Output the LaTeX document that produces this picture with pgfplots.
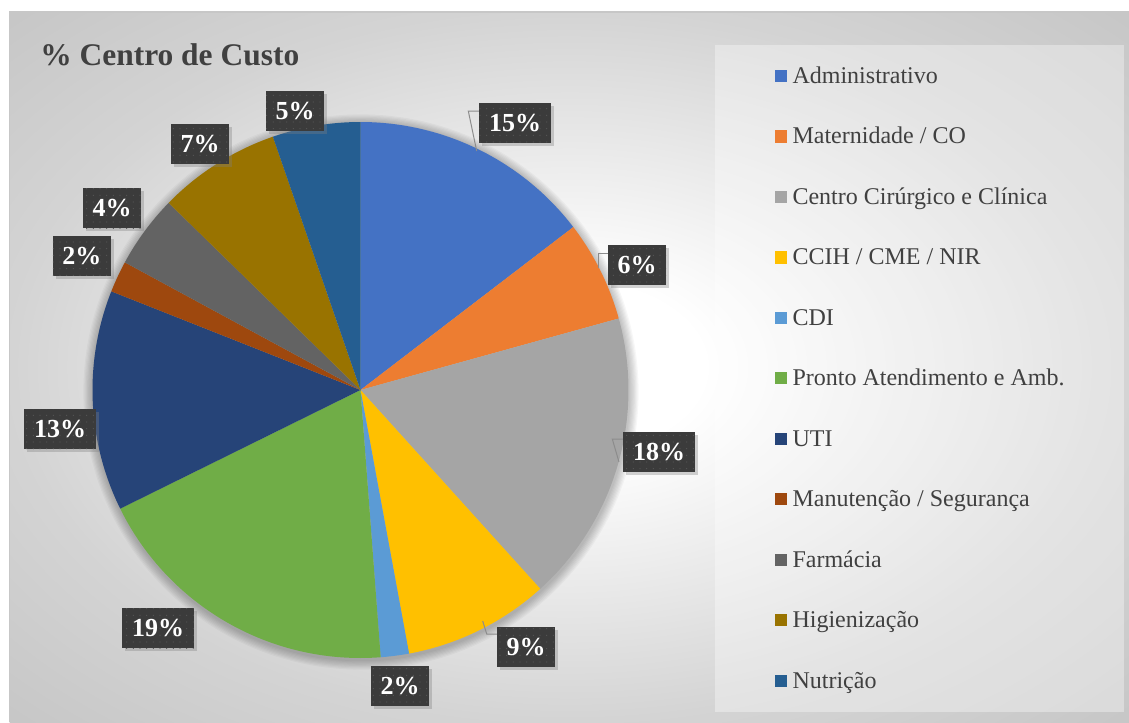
\documentclass[border=0pt]{standalone}
\usepackage{pgfplots}
\pgfplotsset{compat=1.18}
\usepackage{pgfplotstable}
\usepackage{fontspec}
\setmainfont{Liberation Serif}
\usetikzlibrary{shadows,patterns.meta}

\definecolor{c0}{HTML}{4472C4}
\definecolor{c1}{HTML}{ED7D31}
\definecolor{c2}{HTML}{A5A5A5}
\definecolor{c3}{HTML}{FFC000}
\definecolor{c4}{HTML}{5B9BD5}
\definecolor{c5}{HTML}{70AD47}
\definecolor{c6}{HTML}{264478}
\definecolor{c7}{HTML}{9E480E}
\definecolor{c8}{HTML}{636363}
\definecolor{c9}{HTML}{997300}
\definecolor{c10}{HTML}{255E91}
\definecolor{txt}{HTML}{404040}
\definecolor{lblbg}{HTML}{3B3B3B}

\pgfdeclareradialshading{chartbg}{\pgfpoint{0bp}{0bp}}{color(0bp)=(white); color(6bp)=(white); color(25bp)=(black!17); color(35bp)=(black!22); color(50bp)=(black!22)}

% name, share (%), label centre (pixel x, pixel y)
\pgfplotstableread[col sep=comma]{
name,val,lx,ly
Administrativo,14.6,515,123
Maternidade / CO,6.1,637,265
Centro Cirúrgico e Clínica,17.6,659,452
CCIH / CME / NIR,8.8,526,647
CDI,1.7,400,686
Pronto Atendimento e Amb.,18.9,158,628
UTI,13.3,60,429
Manutenção / Segurança,1.9,82,256
Farmácia,4.4,112,208
Higienização,7.4,200,144
Nutrição,5.3,295,111
}\pietable

\begin{document}
\begin{tikzpicture}
\path[use as bounding box] (0,0) rectangle (846.75pt,541.5pt);
\xdef\cum{0}
\foreach \i in {0,...,10}{%
  \pgfplotstablegetelem{\i}{val}\of\pietable
  \let\v\pgfplotsretval
  \pgfmathsetmacro\sa{90-3.6*\cum}%
  \pgfmathsetmacro\nc{\cum+\v}%
  \pgfmathsetmacro\ea{90-3.6*\nc}%
  \pgfmathtruncatemacro\pc{round(\v)}%
  \expandafter\xdef\csname sa\i\endcsname{\sa}%
  \expandafter\xdef\csname ea\i\endcsname{\ea}%
  \expandafter\xdef\csname pc\i\endcsname{\pc}%
  \xdef\cum{\nc}%
  \pgfplotstablegetelem{\i}{name}\of\pietable
  \expandafter\xdef\csname nm\i\endcsname{\pgfplotsretval}%
  \pgfplotstablegetelem{\i}{lx}\of\pietable
  \expandafter\xdef\csname lx\i\endcsname{\pgfplotsretval}%
  \pgfplotstablegetelem{\i}{ly}\of\pietable
  \expandafter\xdef\csname ly\i\endcsname{\pgfplotsretval}%
}
\begin{scope}[x=0.75pt,y=-0.75pt,shift={(0pt,541.5pt)}]
  \shade[shading=chartbg] (9.5,12) rectangle (1129,722);
  \draw[black!22, line width=0.8pt] (9.5,722) -- (9.5,12) -- (1129,12);
  \fill[white, opacity=0.35] (715,45) rectangle (1124,712);
\end{scope}
\begin{axis}[at={(0pt,0pt)}, anchor=south west, scale only axis,
  width=846.75pt, height=541.5pt,
  xmin=0, xmax=1129, ymin=0, ymax=722, y dir=reverse,
  hide axis, clip=false]
  % soft shadow of the pie
  \pgfplotsinvokeforeach{1,...,8}{%
    \fill[black, opacity=0.03] (axis cs:361,392) circle[radius={201pt+#1*0.9pt}];}
  % slices
  \pgfplotsinvokeforeach{0,...,10}{%
    \fill[c#1] (axis cs:360.5,390) -- ++(\csname sa#1\endcsname:201pt)
      arc[start angle=\csname sa#1\endcsname, end angle=\csname ea#1\endcsname, radius=201pt] -- cycle;}
  % leader lines
  \draw[black!45, line width=0.75pt] (axis cs:476.7,151) -- (axis cs:468.3,111) -- (axis cs:480,111);
  \draw[black!45, line width=0.75pt] (axis cs:598.3,268) -- (axis cs:598.3,253) -- (axis cs:609,253);
  \draw[black!45, line width=0.75pt] (axis cs:619,462) -- (axis cs:612.3,439) -- (axis cs:624,439);
  \draw[black!45, line width=0.75pt] (axis cs:482.7,621) -- (axis cs:486.7,634) -- (axis cs:498,634);
  % data labels
  \pgfplotsinvokeforeach{0,...,10}{%
    \node[fill=lblbg, text=white, font=\fontsize{19.5}{22}\selectfont\bfseries,
      inner xsep=7.2pt, inner ysep=0pt, minimum height=30pt,
      drop shadow={shadow xshift=2.2pt, shadow yshift=-2.2pt, opacity=0.35},
      postaction={pattern={Dots[distance=5pt,radius=0.45pt]}, pattern color=white!14!lblbg}]
      at (axis cs:\csname lx#1\endcsname,\csname ly#1\endcsname) {\csname pc#1\endcsname\%};}
  % legend
  \pgfplotsinvokeforeach{0,...,10}{%
    \fill[c#1] (axis cs:775.3,{76+60.47*#1-6.1}) rectangle (axis cs:787.3,{76+60.47*#1+6.1});
    \node[anchor=base west, inner sep=0pt, text=txt, font=\fontsize{18}{22}\selectfont]
      at (axis cs:792.3,{76+60.47*#1+7.3}) {\csname nm#1\endcsname};}
  % title
  \node[anchor=base west, inner sep=0pt, text=txt, font=\fontsize{23.6}{28}\selectfont\bfseries]
    at (axis cs:40,65) {\% Centro de Custo};
\end{axis}
\end{tikzpicture}
\end{document}
